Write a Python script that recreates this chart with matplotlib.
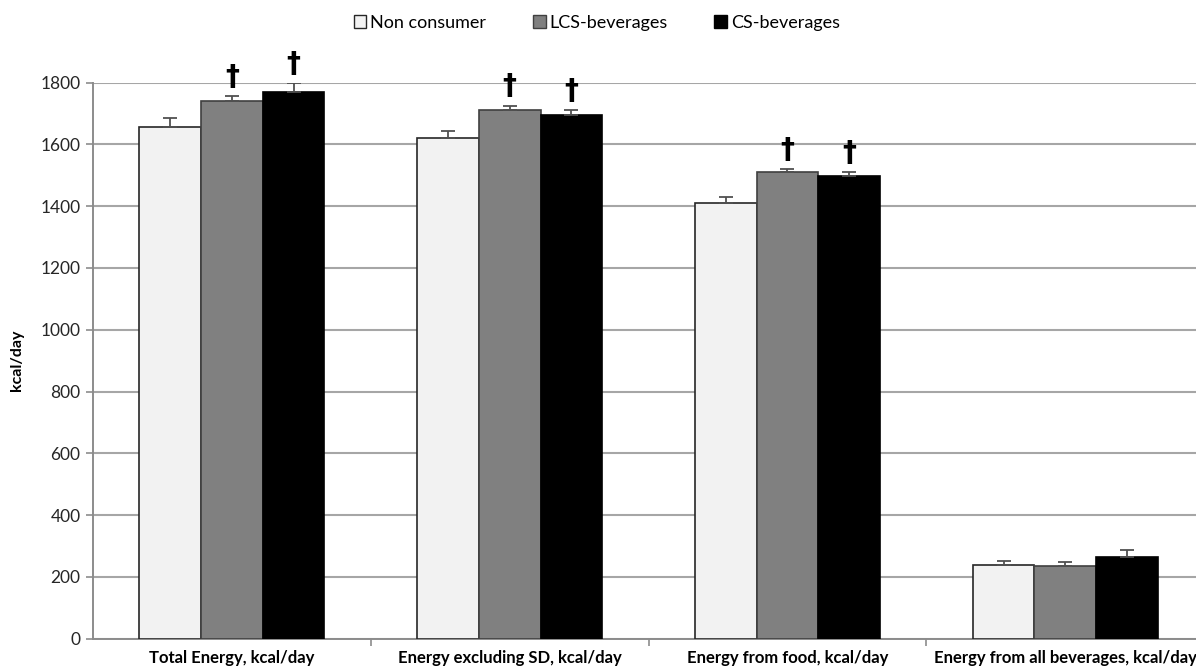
import numpy as np
import matplotlib.pyplot as plt
from matplotlib.patches import Patch

plt.rcParams['font.family'] = ['Lato', 'DejaVu Sans']

categories = ['Total Energy, kcal/day', 'Energy excluding SD, kcal/day',
              'Energy from food, kcal/day', 'Energy from all beverages, kcal/day']
groups = ['Non consumer', 'LCS-beverages', 'CS-beverages']

non_consumer = [1656, 1619, 1411, 240]
lcs_bev = [1740, 1712, 1510, 237]
cs_bev = [1769, 1694, 1497, 264]

non_consumer_err = [28, 23, 19, 12]
lcs_bev_err = [15, 12, 10, 11]
cs_bev_err = [28, 16, 13, 22]

# significance marks (dagger) per series and category
lcs_sig = [True, True, True, False]
cs_sig = [True, True, True, False]
non_sig = [False, False, False, False]

fills = ['#f2f2f2', '#808080', '#000000']
edges = ['#262626', '#404040', '#000000']

fig = plt.figure(figsize=(11.96, 6.71), dpi=100)
ax = fig.add_axes([0.0778, 0.048, 0.929, 0.829])

x = np.arange(len(categories))
w = 0.222
series = [(non_consumer, non_consumer_err, non_sig),
          (lcs_bev, lcs_bev_err, lcs_sig),
          (cs_bev, cs_bev_err, cs_sig)]

for i, (vals, errs, sig) in enumerate(series):
    pos = x + (i - 1) * w
    ax.bar(pos, vals, w, color=fills[i], edgecolor=edges[i], linewidth=1.2, zorder=3)
    ax.errorbar(pos, vals, yerr=[np.zeros(len(vals)), errs], fmt='none',
                ecolor='#505050', elinewidth=1.3, capsize=5, capthick=1.3, zorder=4)
    for p, v, e, s in zip(pos, vals, errs, sig):
        if s:
            ax.annotate('†', (p, v + e), xytext=(0, 4), textcoords='offset points',
                        ha='center', va='bottom', fontsize=20, fontweight='bold',
                        family='DejaVu Sans')

ax.set_xlim(-0.5, 3.5)
ax.set_ylim(0, 1800)
ax.set_yticks(np.arange(0, 1801, 200))
ax.yaxis.grid(True, color='#a6a6a6', linewidth=1.5, zorder=0)
ax.set_axisbelow(True)

ax.set_xticks(x)
ax.set_xticklabels(categories, fontsize=12, fontweight='bold')
ax.set_xticks(np.arange(0.5, 3.5, 1.0), minor=True)
ax.tick_params(axis='x', which='major', length=0, pad=8)
ax.tick_params(axis='x', which='minor', length=5, color='#8c8c8c', width=1.2)
ax.tick_params(axis='y', length=5, color='#8c8c8c', width=1.2, labelsize=12.5,
               labelcolor='#262626', pad=4)
ax.set_ylabel('kcal/day', fontsize=11.5, fontweight='bold', labelpad=12)

for side in ['top', 'right']:
    ax.spines[side].set_visible(False)
for side in ['left', 'bottom']:
    ax.spines[side].set_color('#8c8c8c')
    ax.spines[side].set_linewidth(1.4)

handles = [Patch(facecolor=fills[i], edgecolor=edges[i], linewidth=1.0) for i in range(3)]
fig.legend(handles, groups, loc='center', bbox_to_anchor=(0.499, 0.966), ncol=3,
           frameon=False, fontsize=13, handlelength=0.7, handleheight=0.7,
           handletextpad=0.2, columnspacing=2.6)

plt.savefig('out.png', dpi=100)
